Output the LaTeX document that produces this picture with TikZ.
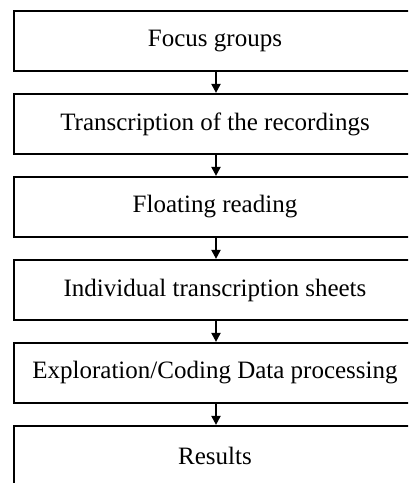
\documentclass[tikz,border=0pt]{standalone}
\usepackage{fontspec}
\setmainfont{Liberation Serif}
\usetikzlibrary{arrows.meta}
\tikzset{
  stage/.style={draw=black, line width=2.2pt, minimum width=402pt, minimum height=60pt,
    inner sep=0pt, font=\fontsize{25}{29}\selectfont},
  flow/.style={line width=2pt, -{Triangle[length=9pt,width=9pt]}}
}
\begin{document}
\begin{tikzpicture}[x=1pt,y=-1pt]
  \useasboundingbox (0,0) rectangle (408,483);
  \clip (0,0) rectangle (408,483);
  \node[stage] (s1) at (215,41)  {Focus groups};
  \node[stage] (s2) at (215,124) {Transcription of the recordings};
  \node[stage] (s3) at (215,207) {Floating reading};
  \node[stage] (s4) at (215,290) {Individual transcription sheets};
  \node[stage] (s5) at (215,373) {Exploration/Coding Data processing};
  \node[stage] (s6) at (215,456) {Results};
  \foreach \a/\b in {s1/s2,s2/s3,s3/s4,s4/s5,s5/s6}
    \draw[flow] ([xshift=1pt]\a.south) -- ([xshift=1pt]\b.north);
\end{tikzpicture}
\end{document}
